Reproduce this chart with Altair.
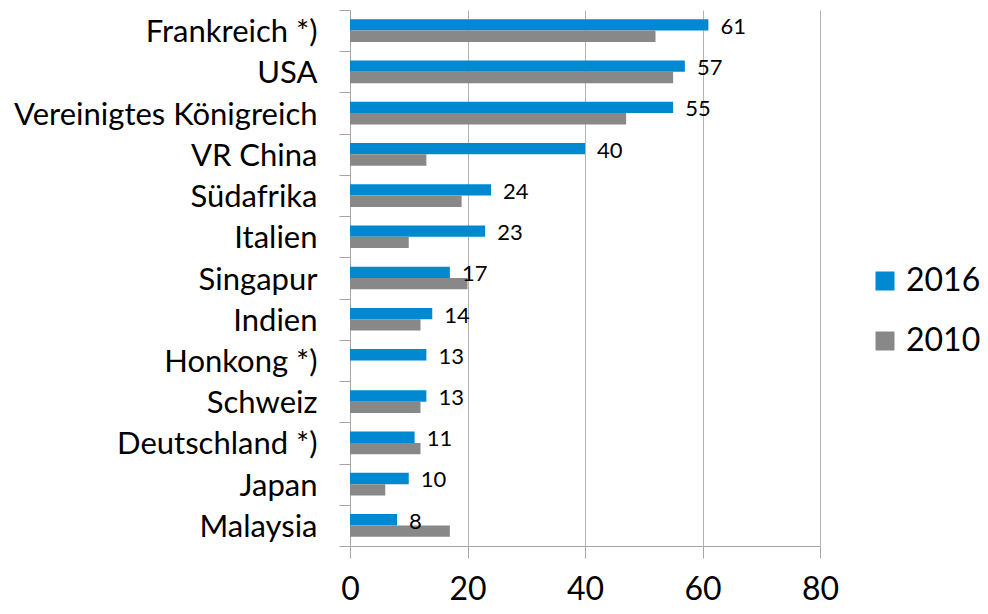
import altair as alt
import pandas as pd

countries = ["Frankreich *)", "USA", "Vereinigtes Königreich", "VR China", "Südafrika",
             "Italien", "Singapur", "Indien", "Honkong *)", "Schweiz",
             "Deutschland *)", "Japan", "Malaysia"]
v2016 = [61, 57, 55, 40, 24, 23, 17, 14, 13, 13, 11, 10, 8]
v2010 = [52, 55, 47, 13, 19, 10, 20, 12, None, 12, 12, 6, 17]
years = ["2016", "2010"]
colors = ["#0089D1", "#888888"]
x_ticks = [0, 20, 40, 60, 80]

rows = []
for c, a, b in zip(countries, v2016, v2010):
    rows.append({"country": c, "year": "2016", "value": a})
    if b is not None:
        rows.append({"country": c, "year": "2010", "value": b})
df = pd.DataFrame(rows)

FONT = "Lato"

y_enc = alt.Y(
    "country:N", sort=countries, title=None,
    scale=alt.Scale(paddingInner=0, paddingOuter=0),
    axis=alt.Axis(tickBand="extent", tickSize=11, tickColor="#A6A6A6", domainColor="#A6A6A6",
                  labelFontSize=31, labelFont=FONT, labelColor="#000000", labelPadding=22,
                  labelOffset=2, labelLimit=500, grid=False),
)
yoff = alt.YOffset("year:N", sort=years, scale=alt.Scale(paddingInner=0, paddingOuter=0.818))
x_enc = alt.X(
    "value:Q", title=None,
    scale=alt.Scale(domain=[0, 80], nice=False),
    axis=alt.Axis(values=x_ticks, tickSize=12, tickColor="#A6A6A6", domainColor="#A6A6A6",
                  gridColor="#B3B3B3", grid=True, labelFontSize=32, labelFont=FONT,
                  labelColor="#000000", labelPadding=16, labelFlush=False),
)

bars = alt.Chart(df).mark_bar().encode(
    x=x_enc, y=y_enc, yOffset=yoff,
    color=alt.Color("year:N", sort=years,
                    scale=alt.Scale(domain=years, range=colors),
                    legend=alt.Legend(title=None, orient="none", legendX=519, legendY=255,
                                      symbolType="square", symbolSize=361, symbolStrokeWidth=0,
                                      labelFontSize=32, labelFont=FONT, labelColor="#000000",
                                      rowPadding=28, labelOffset=5, labelLimit=300)),
)

labels = alt.Chart(df[df["year"] == "2016"]).mark_text(
    align="left", baseline="middle", dx=12, dy=2, fontSize=22, font=FONT, color="#000000"
).encode(
    x=alt.X("value:Q", scale=alt.Scale(domain=[0, 80], nice=False)),
    y=alt.Y("country:N", sort=countries),
    yOffset=yoff,
    text=alt.Text("value:Q"),
)

chart = (bars + labels).properties(
    width=470, height=536,
    autosize=alt.AutoSizeParams(type="none"),
    padding={"left": 342, "top": 2, "right": 160, "bottom": 60},
).configure_view(stroke=None)

chart.save("out.html", embed_options={"renderer": "svg", "actions": False})
